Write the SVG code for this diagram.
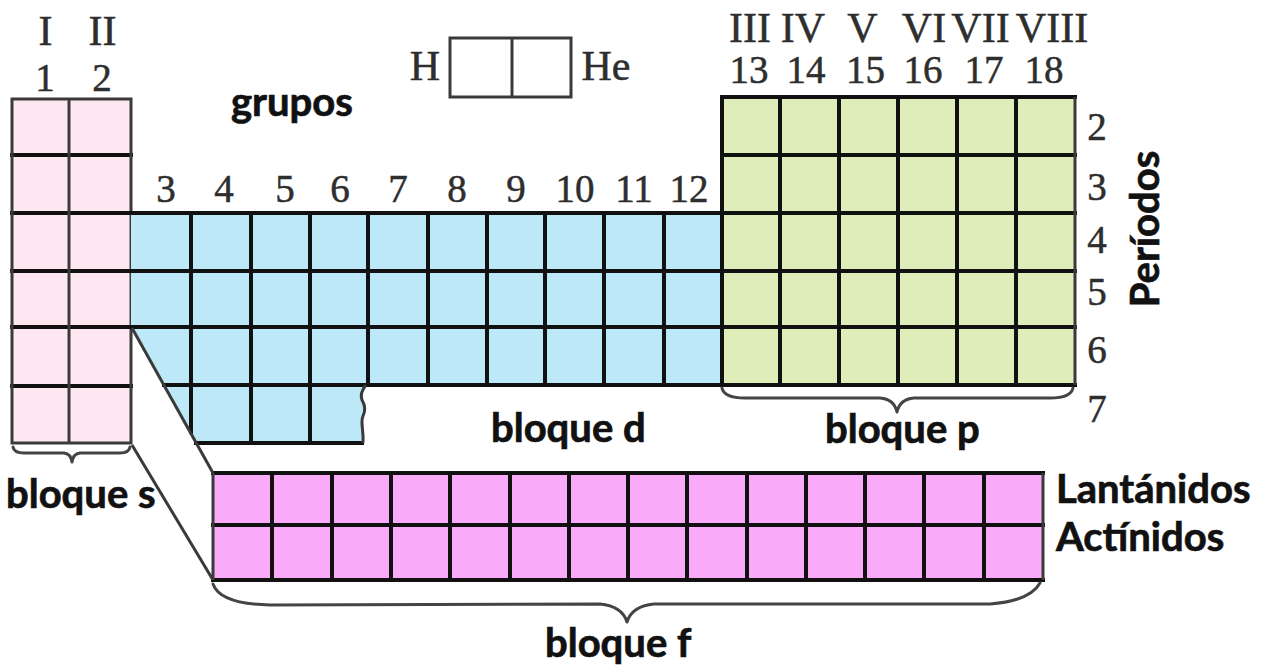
<svg xmlns="http://www.w3.org/2000/svg" width="1274" height="670" viewBox="0 0 1274 670">
  <style>
    .serif { font-family: "Liberation Serif", "Times New Roman", serif; fill: #2e2e2e; stroke: #2e2e2e; stroke-width: 0.5; text-anchor: middle; }
    .num { font-size: 39px; }
    .rom { font-size: 42px; }
    .lbl { font-family: Lato, "Open Sans", "Liberation Sans", sans-serif; font-weight: 700; font-size: 40px; fill: #111; stroke: #111; stroke-width: 0.7; }
    .grid { stroke: #111; stroke-width: 4; fill: none; stroke-linecap: square; }
    .soft { stroke: #3a3a3a; stroke-width: 3; fill: none; }
    .brace { stroke: #444; stroke-width: 3; fill: none; stroke-linecap: round; stroke-linejoin: round; }
  </style>

  <rect width="1274" height="670" fill="#ffffff"/>

  <!-- s block: groups 1-2, periods 1-7 -->
  <g id="s-block">
    <rect x="12" y="99" width="119" height="344" fill="#fde8f2"/>
    <path class="grid" d="M12,155 H131 M12,213 H131 M12,271 H131 M12,327 H131 M12,386 H131"/>
    <path class="soft" d="M69,99 V443"/>
    <rect class="soft" x="12" y="99" width="119" height="344"/>
  </g>

  <!-- d block: groups 3-12 -->
  <g id="d-block">
    <path fill="#bde8f7" d="M131,213 H722 V385 H366 C362,390 360,395 362,400 C365,405 366,410 363,416 C360,423 364,430 363,443 H196 L132,328 H131 Z"/>
    <path class="grid" d="M131,213 H722 M131,271 H722 M131,327 H722 M164,385 H722 M196,443 H362
                          M191,213 V432 M251,213 V443 M310,213 V443
                          M368,213 V385 M428,213 V385 M487,213 V385 M545,213 V385 M604,213 V385 M664,213 V385"/>
    <path class="soft" d="M366,385 C362,390 360,395 362,400 C365,405 366,410 363,416 C360,423 364,430 363,443"/>
  </g>

  <!-- p block: groups 13-18 -->
  <g id="p-block">
    <rect x="722" y="97" width="353" height="288" fill="#dfedbb"/>
    <path class="grid" d="M722,97 H1075 M722,155 H1075 M722,213 H1075 M722,271 H1075 M722,327 H1075 M722,385 H1075
                          M722,97 V385 M780,97 V385 M839,97 V385 M898,97 V385 M957,97 V385 M1016,97 V385"/>
    <path class="soft" d="M1075,97 V385"/>
  </g>

  <!-- f block: lanthanides and actinides -->
  <g id="f-block">
    <rect x="213" y="473" width="830" height="107" fill="#f9abf9"/>
    <path class="grid" d="M213,473 H1043 M213,525 H1043 M213,580 H1043
                          M272,473 V580 M332,473 V580 M391,473 V580 M450,473 V580 M510,473 V580 M569,473 V580 M628,473 V580
                          M687,473 V580 M747,473 V580 M806,473 V580 M865,473 V580 M924,473 V580 M984,473 V580"/>
    <path class="soft" d="M213,473 V580 M1043,473 V580"/>
  </g>

  <!-- hydrogen / helium boxes -->
  <g id="h-he">
    <rect class="soft" x="450" y="38" width="121" height="59"/>
    <path class="soft" d="M512,38 V97"/>
    <text class="serif" x="425" y="80" style="font-size:42px">H</text>
    <text class="serif" x="606" y="80" style="font-size:42px">He</text>
  </g>

  <!-- connectors: f-block extraction lines and braces -->
  <g id="connectors">
    <path class="soft" d="M132,328 L213,473"/>
    <path class="soft" d="M132,445 L213,580"/>
    <path class="brace" d="M13,447 Q14,453 24,453 L64,453 Q71,454 72,462 Q73,454 80,453 L120,453 Q129,453 130,447"/>
    <path class="brace" d="M722,388 Q724,398 745,398 L880,398 Q894,399 897,412 Q900,399 914,398 L1050,398 Q1071,398 1073,388"/>
    <path class="brace" d="M213,584 Q220,604 270,605 L600,604 Q622,606 627,622 Q632,606 654,604 L990,604 Q1030,601 1040,583"/>
  </g>

  <!-- group headings -->
  <g id="group-labels">
    <text class="serif rom" x="45.5" y="45">I</text>
    <text class="serif rom" x="102.5" y="45">II</text>
    <text class="serif num" x="45" y="91">1</text>
    <text class="serif num" x="102" y="91">2</text>

    <text class="serif num" x="166" y="202">3</text>
    <text class="serif num" x="224" y="202">4</text>
    <text class="serif num" x="285" y="202">5</text>
    <text class="serif num" x="340" y="202">6</text>
    <text class="serif num" x="398" y="202">7</text>
    <text class="serif num" x="457" y="202">8</text>
    <text class="serif num" x="516" y="202">9</text>
    <text class="serif num" x="575" y="202">10</text>
    <text class="serif num" x="634" y="202">11</text>
    <text class="serif num" x="689" y="202">12</text>

    <text class="serif rom" x="750" y="42">III</text>
    <text class="serif rom" x="803" y="42">IV</text>
    <text class="serif rom" x="862.5" y="42">V</text>
    <text class="serif rom" x="924" y="42">VI</text>
    <text class="serif rom" x="980.5" y="42">VII</text>
    <text class="serif rom" x="1052" y="42">VIII</text>
    <text class="serif num" x="749" y="83">13</text>
    <text class="serif num" x="806" y="83">14</text>
    <text class="serif num" x="865.5" y="83">15</text>
    <text class="serif num" x="923" y="83">16</text>
    <text class="serif num" x="984" y="83">17</text>
    <text class="serif num" x="1044" y="83">18</text>
  </g>

  <!-- period numbers -->
  <g id="period-labels">
    <text class="serif num" x="1097" y="140">2</text>
    <text class="serif num" x="1097" y="200">3</text>
    <text class="serif num" x="1097" y="253">4</text>
    <text class="serif num" x="1097" y="305">5</text>
    <text class="serif num" x="1097" y="363">6</text>
    <text class="serif num" x="1097" y="422">7</text>
  </g>

  <!-- block names and captions -->
  <g id="captions">
    <text class="lbl" x="231" y="116">grupos</text>
    <text class="lbl" x="1159" y="229" text-anchor="middle" transform="rotate(-90 1159 229)">Períodos</text>
    <text class="lbl" x="491" y="442">bloque d</text>
    <text class="lbl" x="825" y="443">bloque p</text>
    <text class="lbl" x="6" y="508">bloque s</text>
    <text class="lbl" x="1056" y="503">Lantánidos</text>
    <text class="lbl" x="1056" y="551">Actínidos</text>
    <text class="lbl" x="545" y="657">bloque f</text>
  </g>
</svg>
